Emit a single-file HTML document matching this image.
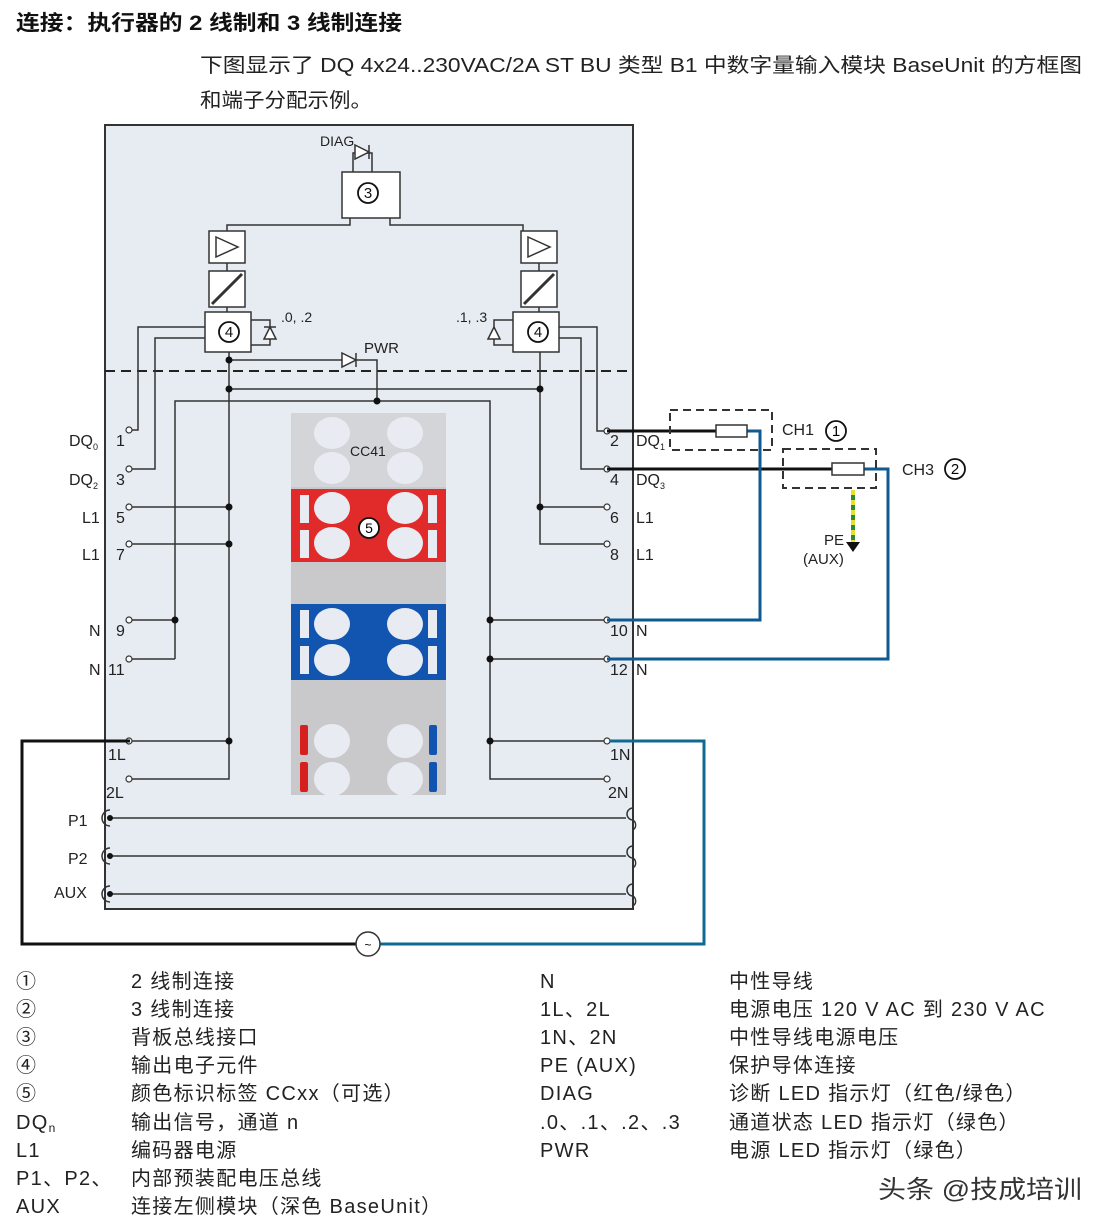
<!DOCTYPE html>
<html><head><meta charset="utf-8"><style>
body{margin:0;background:#fff;}
svg{display:block;font-family:"Liberation Sans","Noto Sans CJK SC",sans-serif;}
</style></head><body>
<svg width="1108" height="1228" viewBox="0 0 1108 1228" xmlns="http://www.w3.org/2000/svg">
<rect width="1108" height="1228" fill="#fff"/>
<text x="16" y="30" font-size="21" font-weight="bold" fill="#111" textLength="386" lengthAdjust="spacingAndGlyphs">连接：执行器的 2 线制和 3 线制连接</text>
<text x="200" y="72" font-size="20" fill="#222" textLength="882" lengthAdjust="spacingAndGlyphs">下图显示了 DQ 4x24..230VAC/2A ST BU 类型 B1 中数字量输入模块 BaseUnit 的方框图</text>
<text x="200" y="107" font-size="20" fill="#222" textLength="172" lengthAdjust="spacingAndGlyphs">和端子分配示例。</text>

<rect x="105" y="125" width="528" height="784" fill="#e7ecf2" stroke="#333" stroke-width="2"/>
<line x1="105" y1="371" x2="633" y2="371" stroke="#222" stroke-width="2" stroke-dasharray="10,6"/>

<g stroke="#333" stroke-width="1.5" fill="none">
<rect x="342" y="172" width="58" height="46" fill="#fff"/>
<path d="M353 172 V153 H372 V172"/>
<path d="M355 145 l14 7 l-14 7 z M369 145 v14" fill="#fff"/>
<path d="M350 218 V225 H227 V231 M390 218 V225 H523 V231"/>
<rect x="209" y="231" width="36" height="32" fill="#fff"/>
<path d="M216 237 l22 10 l-22 10 z"/>
<line x1="227" y1="263" x2="227" y2="271"/>
<rect x="209" y="271" width="36" height="36" fill="#fff"/>
<line x1="212" y1="304" x2="242" y2="274" stroke-width="3"/>
<line x1="227" y1="307" x2="227" y2="312"/>
<rect x="205" y="312" width="46" height="40" fill="#fff"/>
<path d="M251 320 H270 V345 H251"/>
<path d="M264 339 l6 -12 l6 12 z M264 327 h12" fill="#fff"/>
<rect x="521" y="231" width="36" height="32" fill="#fff"/>
<path d="M528 237 l22 10 l-22 10 z"/>
<line x1="539" y1="263" x2="539" y2="271"/>
<rect x="521" y="271" width="36" height="36" fill="#fff"/>
<line x1="524" y1="304" x2="554" y2="274" stroke-width="3"/>
<line x1="539" y1="307" x2="539" y2="312"/>
<rect x="513" y="312" width="46" height="40" fill="#fff"/>
<path d="M513 320 H494 V345 H513"/>
<path d="M488 339 l6 -12 l6 12 z M488 339 h12" fill="#fff"/>
<path d="M205 327 H138 V430 H132"/>
<path d="M205 338 H155 V469 H132"/>
<path d="M229 352 V779 H132"/>
<path d="M229 360 H342 M356 360 H377 V401"/>
<path d="M342 353 l14 7 l-14 7 z M356 353 v14" fill="#fff"/>
<path d="M229 389 H540"/>
<path d="M175 659 V401 H490 V779 H604"/>
<path d="M229 507 H132 M229 544 H132 M175 620 H132 M175 659 H132 M229 741 H132"/>
<path d="M559 327 H597 V431 H604"/>
<path d="M559 338 H581 V469 H604"/>
<path d="M540 352 V544 H604 M540 507 H604"/>
<path d="M490 620 H604 M490 659 H604 M490 741 H604"/>
<path d="M112 818 H626 M112 856 H626 M112 894 H626"/>
</g>
<g stroke="#333" stroke-width="1.5" fill="none">
<path d="M110 810 a8 8 0 0 0 0 16 M110 848 a8 8 0 0 0 0 16 M110 886 a8 8 0 0 0 0 16"/>
<path d="M633 808 a6 6 0 0 0 0 12 a6 6 0 0 1 0 10 M633 846 a6 6 0 0 0 0 12 a6 6 0 0 1 0 10 M633 884 a6 6 0 0 0 0 12 a6 6 0 0 1 0 10"/>
</g>
<g font-size="15" text-anchor="middle" fill="#111">
<circle cx="368" cy="193" r="10" fill="#fff" stroke="#111" stroke-width="1.8"/><text x="368" y="198">3</text>
<circle cx="229" cy="332" r="10" fill="#fff" stroke="#111" stroke-width="1.8"/><text x="229" y="337">4</text>
<circle cx="538" cy="332" r="10" fill="#fff" stroke="#111" stroke-width="1.8"/><text x="538" y="337">4</text>
</g>
<g font-size="14" fill="#222">
<text x="320" y="146">DIAG</text>
<text x="281" y="322">.0, .2</text>
<text x="456" y="322">.1, .3</text>
<text x="364" y="353" font-size="15">PWR</text>
</g>
<g fill="#111">
<circle cx="229" cy="360" r="3.5"/><circle cx="229" cy="389" r="3.5"/><circle cx="540" cy="389" r="3.5"/><circle cx="377" cy="401" r="3.5"/>
<circle cx="229" cy="507" r="3.5"/><circle cx="229" cy="544" r="3.5"/><circle cx="175" cy="620" r="3.5"/><circle cx="229" cy="741" r="3.5"/>
<circle cx="540" cy="507" r="3.5"/><circle cx="490" cy="620" r="3.5"/><circle cx="490" cy="659" r="3.5"/><circle cx="490" cy="741" r="3.5"/>
<circle cx="110" cy="818" r="3"/><circle cx="110" cy="856" r="3"/><circle cx="110" cy="894" r="3"/>
</g>

<rect x="291" y="413" width="155" height="382" fill="#c9c9cb"/>
<rect x="291" y="413" width="155" height="74" fill="#d4d5d8"/>
<rect x="291" y="489" width="155" height="73" fill="#e12a2a"/>
<rect x="291" y="604" width="155" height="76" fill="#1155b0"/>
<g fill="#e8ecf2">
<ellipse cx="332" cy="433" rx="18" ry="16"/><ellipse cx="332" cy="468" rx="18" ry="16"/><ellipse cx="405" cy="433" rx="18" ry="16"/><ellipse cx="405" cy="468" rx="18" ry="16"/>
<ellipse cx="332" cy="508" rx="18" ry="16"/><ellipse cx="332" cy="543" rx="18" ry="16"/><ellipse cx="405" cy="508" rx="18" ry="16"/><ellipse cx="405" cy="543" rx="18" ry="16"/>
<ellipse cx="332" cy="624" rx="18" ry="16"/><ellipse cx="332" cy="660" rx="18" ry="16"/><ellipse cx="405" cy="624" rx="18" ry="16"/><ellipse cx="405" cy="660" rx="18" ry="16"/>
<ellipse cx="332" cy="741" rx="18" ry="17"/><ellipse cx="332" cy="779" rx="18" ry="17"/><ellipse cx="405" cy="741" rx="18" ry="17"/><ellipse cx="405" cy="779" rx="18" ry="17"/>
<rect x="300" y="495" width="9" height="28"/><rect x="300" y="530" width="9" height="28"/><rect x="428" y="495" width="9" height="28"/><rect x="428" y="530" width="9" height="28"/>
<rect x="300" y="610" width="9" height="28"/><rect x="300" y="646" width="9" height="28"/><rect x="428" y="610" width="9" height="28"/><rect x="428" y="646" width="9" height="28"/>
</g>
<rect x="300" y="725" width="8" height="30" rx="2" fill="#d62020"/><rect x="300" y="762" width="8" height="30" rx="2" fill="#d62020"/>
<rect x="429" y="725" width="8" height="30" rx="2" fill="#1155b0"/><rect x="429" y="762" width="8" height="30" rx="2" fill="#1155b0"/>
<text x="350" y="456" font-size="14" fill="#222">CC41</text>
<circle cx="369" cy="528" r="10" fill="#fff" stroke="#111" stroke-width="1.8"/><text x="369" y="533" font-size="14" text-anchor="middle">5</text>

<g fill="#fff" stroke="#333" stroke-width="1.2">
<circle cx="129" cy="430" r="3"/><circle cx="129" cy="469" r="3"/><circle cx="129" cy="507" r="3"/><circle cx="129" cy="544" r="3"/><circle cx="129" cy="620" r="3"/><circle cx="129" cy="659" r="3"/><circle cx="129" cy="741" r="3"/><circle cx="129" cy="779" r="3"/>
<circle cx="607" cy="431" r="3"/><circle cx="607" cy="469" r="3"/><circle cx="607" cy="507" r="3"/><circle cx="607" cy="544" r="3"/><circle cx="607" cy="620" r="3"/><circle cx="607" cy="659" r="3"/><circle cx="607" cy="741" r="3"/><circle cx="607" cy="779" r="3"/>
</g>
<g font-size="16" fill="#222">
<text x="69" y="446">DQ<tspan font-size="9" dy="4">0</tspan></text>
<text x="69" y="485">DQ<tspan font-size="9" dy="4">2</tspan></text>
<text x="82" y="523">L1</text><text x="82" y="560">L1</text>
<text x="89" y="636">N</text><text x="89" y="675">N</text>
<text x="116" y="446">1</text><text x="116" y="485">3</text><text x="116" y="523">5</text><text x="116" y="560">7</text><text x="116" y="636">9</text><text x="108" y="675">11</text>
<text x="108" y="760">1L</text><text x="106" y="798">2L</text>
<text x="68" y="826">P1</text><text x="68" y="864">P2</text><text x="54" y="898">AUX</text>
<text x="610" y="446">2</text><text x="610" y="485">4</text><text x="610" y="523">6</text><text x="610" y="560">8</text><text x="610" y="636">10</text><text x="610" y="675">12</text>
<text x="636" y="446">DQ<tspan font-size="9" dy="4">1</tspan></text>
<text x="636" y="485">DQ<tspan font-size="9" dy="4">3</tspan></text>
<text x="636" y="523">L1</text><text x="636" y="560">L1</text><text x="636" y="636">N</text><text x="636" y="675">N</text>
<text x="610" y="760">1N</text><text x="608" y="798">2N</text>
</g>

<g fill="none">
<path d="M130 741 H22 V944 H356" stroke="#111" stroke-width="3"/>
<path d="M380 944 H704 V741 H610" stroke="#0f6a92" stroke-width="3"/>
<path d="M607 431 H716 M607 469 H832" stroke="#111" stroke-width="3"/>
<path d="M747 431 H760 V620 H607" stroke="#0f5a90" stroke-width="3"/>
<path d="M864 469 H888 V659 H607" stroke="#0f5a90" stroke-width="3"/>
<rect x="670" y="410" width="102" height="40" stroke="#333" stroke-width="2" stroke-dasharray="8,5"/>
<rect x="783" y="449" width="93" height="39" stroke="#333" stroke-width="2" stroke-dasharray="8,5"/>
<line x1="853" y1="490" x2="853" y2="543" stroke="#2a8a3a" stroke-width="4"/>
<line x1="853" y1="490" x2="853" y2="543" stroke="#e6e030" stroke-width="4" stroke-dasharray="5,5"/>
</g>
<rect x="716" y="425" width="31" height="12" fill="#fff" stroke="#333" stroke-width="1.5"/>
<rect x="832" y="463" width="32" height="12" fill="#fff" stroke="#333" stroke-width="1.5"/>
<path d="M846 542 h14 l-7 10 z" fill="#111"/>
<circle cx="368" cy="944" r="12" fill="#fff" stroke="#333" stroke-width="1.5"/>
<text x="368" y="949" font-size="12" text-anchor="middle">~</text>
<g font-size="15" fill="#222">
<text x="824" y="545">PE</text><text x="803" y="564">(AUX)</text>
<text x="782" y="435" font-size="16">CH1</text><text x="902" y="475" font-size="16">CH3</text>
</g>
<g font-size="15" text-anchor="middle">
<circle cx="836" cy="431" r="10" fill="none" stroke="#111" stroke-width="1.8"/><text x="836" y="436">1</text>
<circle cx="955" cy="469" r="10" fill="none" stroke="#111" stroke-width="1.8"/><text x="955" y="474">2</text>
</g>

<g font-size="20" fill="#222" letter-spacing="1.3">
<text x="16" y="988">①</text><text x="131" y="988">2 线制连接</text>
<text x="16" y="1016">②</text><text x="131" y="1016">3 线制连接</text>
<text x="16" y="1044">③</text><text x="131" y="1044">背板总线接口</text>
<text x="16" y="1072">④</text><text x="131" y="1072">输出电子元件</text>
<text x="16" y="1100">⑤</text><text x="131" y="1100">颜色标识标签 CCxx（可选）</text>
<text x="16" y="1129">DQ<tspan font-size="12" dy="3">n</tspan></text><text x="131" y="1129">输出信号，通道 n</text>
<text x="16" y="1157">L1</text><text x="131" y="1157">编码器电源</text>
<text x="16" y="1185">P1、P2、</text><text x="131" y="1185">内部预装配电压总线</text>
<text x="16" y="1213">AUX</text><text x="131" y="1213">连接左侧模块（深色 BaseUnit）</text>
<text x="540" y="988">N</text><text x="729" y="988">中性导线</text>
<text x="540" y="1016">1L、2L</text><text x="729" y="1016">电源电压 120 V AC 到 230 V AC</text>
<text x="540" y="1044">1N、2N</text><text x="729" y="1044">中性导线电源电压</text>
<text x="540" y="1072">PE (AUX)</text><text x="729" y="1072">保护导体连接</text>
<text x="540" y="1100">DIAG</text><text x="729" y="1100">诊断 LED 指示灯（红色/绿色）</text>
<text x="540" y="1129">.0、.1、.2、.3</text><text x="729" y="1129">通道状态 LED 指示灯（绿色）</text>
<text x="540" y="1157">PWR</text><text x="729" y="1157">电源 LED 指示灯（绿色）</text>
</g>
<text x="878" y="1198" font-size="25" fill="#333" textLength="204" lengthAdjust="spacingAndGlyphs">头条 @技成培训</text>
</svg>
</body></html>
